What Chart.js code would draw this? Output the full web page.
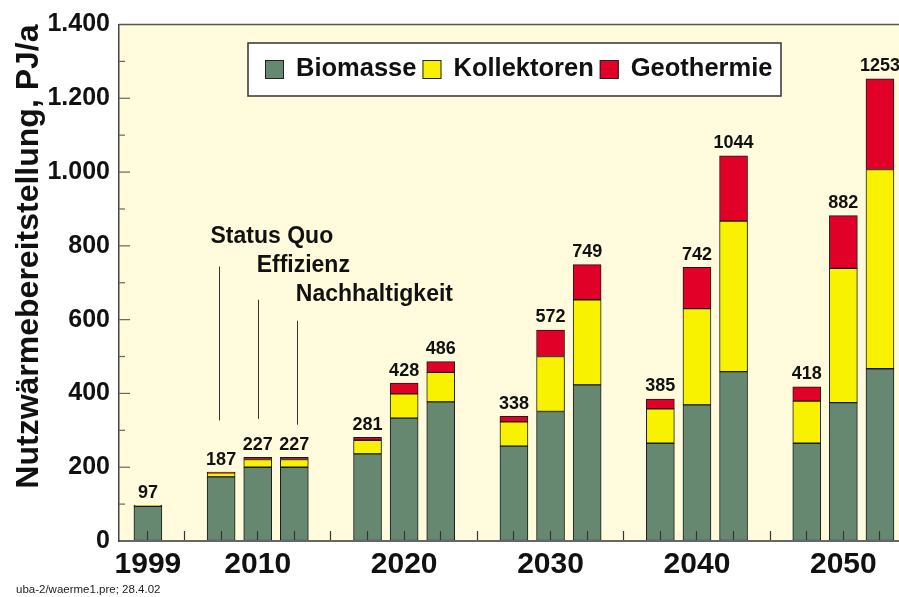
<!DOCTYPE html>
<html>
<head>
<meta charset="utf-8">
<script src="https://cdn.jsdelivr.net/npm/chart.js@4.4.0/dist/chart.umd.min.js"></script>
<style>
  html, body { margin: 0; padding: 0; background: #fff; overflow: hidden; }
  #wrap { position: relative; width: 899px; height: 597px; }
</style>
</head>
<body>
<div id="wrap"><canvas id="chart"></canvas></div>
<script>
// slot index of every bar on the x axis (gaps between the year groups)
const slots = [0, 2, 3, 4, 6, 7, 8, 10, 11, 12, 14, 15, 16, 18, 19, 20];
const yearSlots = [0, 3, 7, 11, 15, 19];
const yearLabels = ['1999', '2010', '2020', '2030', '2040', '2050'];

const seriesNames = ['Biomasse', 'Kollektoren', 'Geothermie'];
const biomasse    = [94, 174, 200, 200, 236, 333, 377, 257, 351, 423, 265, 369, 459, 265, 375, 467];
const kollektoren = [3, 11, 21, 21, 37, 66, 80, 66, 149, 231, 93, 261, 408, 114, 364, 540];
const geothermie  = [0, 2, 6, 6, 8, 29, 29, 15, 72, 95, 27, 112, 177, 39, 143, 246];
const totals      = [97, 187, 227, 227, 281, 428, 486, 338, 572, 749, 385, 742, 1044, 418, 882, 1253];

const scenarios = ['Status Quo', 'Effizienz', 'Nachhaltigkeit'];
const yTitle = 'Nutzwärmebereitstellung, PJ/a';
const footer = 'uba-2/waerme1.pre; 28.4.02';

const FONT = '"Liberation Sans", Arial, Helvetica, sans-serif';
const colors = ['#668870', '#F8F200', '#E00028'];

function fmt(v) {
  return String(v).replace(/\B(?=(\d{3})+(?!\d))/g, '.');
}

// annotation anchors in data units (slot, PJ/a)
const scenarioText = [[1.71, 807], [2.97, 729], [4.04, 651]];
const scenarioLine = [[1.93, 744, 327], [3.0, 654, 331], [4.06, 597, 315]];

const decorations = {
  id: 'decorations',
  beforeDraw(chart) {
    const { ctx, chartArea: a } = chart;
    ctx.save();
    ctx.fillStyle = '#FFFBDC';
    ctx.fillRect(a.left, a.top, a.right - a.left, a.bottom - a.top);
    ctx.restore();
  },
  afterDatasetsDraw(chart) {
    const { ctx, scales: { x, y } } = chart;
    ctx.save();
    ctx.font = `bold 18px ${FONT}`;
    ctx.fillStyle = '#111';
    ctx.textAlign = 'center';
    ctx.textBaseline = 'alphabetic';
    totals.forEach((t, i) => {
      ctx.fillText(String(t), x.getPixelForValue(slots[i]), y.getPixelForValue(t) - 7.5);
    });

    // scenario names and pointer lines
    ctx.font = `bold 23px ${FONT}`;
    ctx.textAlign = 'left';
    scenarios.forEach((s, i) => {
      ctx.fillText(s, x.getPixelForValue(scenarioText[i][0]), y.getPixelForValue(scenarioText[i][1]));
    });
    ctx.strokeStyle = '#333';
    ctx.lineWidth = 1;
    scenarioLine.forEach(([sx, top, bottom]) => {
      const px = Math.round(x.getPixelForValue(sx)) + 0.5;
      ctx.beginPath();
      ctx.moveTo(px, y.getPixelForValue(top));
      ctx.lineTo(px, y.getPixelForValue(bottom));
      ctx.stroke();
    });
    ctx.restore();
  },
  afterDraw(chart) {
    const { ctx, chartArea: a, scales: { y } } = chart;
    ctx.save();
    // top frame line
    ctx.strokeStyle = '#555';
    ctx.lineWidth = 1.5;
    ctx.beginPath();
    ctx.moveTo(a.left, a.top);
    ctx.lineTo(a.right, a.top);
    ctx.stroke();

    // inward ticks on the y axis: long at labels, short between
    ctx.lineWidth = 1.2;
    ctx.strokeStyle = '#666';
    for (let v = 100; v < 1400; v += 100) {
      const py = y.getPixelForValue(v);
      ctx.beginPath();
      ctx.moveTo(a.left, py);
      ctx.lineTo(a.left + (v % 200 === 0 ? 11 : 6), py);
      ctx.stroke();
    }

    // legend box
    const lx = 248, ly = 43, lw = 533, lh = 53;
    ctx.fillStyle = '#fff';
    ctx.fillRect(lx, ly, lw, lh);
    ctx.strokeStyle = '#333';
    ctx.lineWidth = 1.5;
    ctx.strokeRect(lx, ly, lw, lh);
    ctx.font = `bold 25.5px ${FONT}`;
    ctx.textAlign = 'left';
    ctx.textBaseline = 'alphabetic';
    let cx = 265;
    chart.data.datasets.forEach(ds => {
      ctx.fillStyle = ds.backgroundColor;
      ctx.fillRect(cx, 60, 19, 19);
      ctx.strokeStyle = '#222';
      ctx.lineWidth = 1;
      ctx.strokeRect(cx + 0.5, 60.5, 18, 18);
      ctx.fillStyle = '#111';
      ctx.fillText(ds.label, cx + 31, 76);
      cx += 31 + ctx.measureText(ds.label).width + 6;
    });

    // source note
    ctx.font = `11.5px ${FONT}`;
    ctx.fillStyle = '#222';
    ctx.fillText(footer, 16, 593);
    ctx.restore();
  }
};

const series = [biomasse, kollektoren, geothermie];
const datasets = series.map((vals, k) => ({
  label: seriesNames[k],
  data: slots.map((s, i) => ({ x: s, y: vals[i] })),
  backgroundColor: colors[k],
  borderColor: '#1a1a1a',
  borderWidth: 1,
  borderSkipped: false,
  barThickness: 28
}));

const ctx = document.getElementById('chart').getContext('2d');
const chart = new Chart(ctx, {
  type: 'bar',
  data: { datasets },
  plugins: [decorations],
  options: {
    responsive: true,
    maintainAspectRatio: false,
    animation: false,
    layout: { padding: { top: 24.5, right: 0, bottom: 0, left: 0 } },
    plugins: {
      legend: { display: false },
      tooltip: { enabled: false }
    },
    scales: {
      x: {
        type: 'linear',
        stacked: true,
        offset: false,
        min: -0.79,
        max: 20.52,
        afterFit: (scale) => { scale.height = 56; },
        ticks: {
          stepSize: 1,
          includeBounds: false,
          autoSkip: false,
          maxRotation: 0,
          padding: 16,
          color: '#111',
          font: { family: FONT, size: 30, weight: 'bold' },
          callback: (v) => {
            const k = yearSlots.indexOf(v);
            return k >= 0 ? yearLabels[k] : '';
          }
        },
        grid: {
          offset: false,
          drawOnChartArea: false,
          tickLength: -10,
          tickColor: '#333',
          tickWidth: 1.2,
          z: 1
        },
        border: { display: true, color: '#666', width: 2, z: 1 }
      },
      y: {
        stacked: true,
        min: 0,
        max: 1400,
        afterFit: (scale) => { scale.width = 119; },
        ticks: {
          stepSize: 200,
          padding: 9,
          color: '#111',
          font: { family: FONT, size: 25, weight: 'bold' },
          callback: (v) => fmt(v)
        },
        grid: {
          drawOnChartArea: false,
          drawTicks: false
        },
        border: { display: true, color: '#444', width: 1.5, z: 1 },
        title: {
          display: true,
          text: yTitle,
          align: 'end',
          color: '#111',
          padding: { top: 10, bottom: 0 },
          font: { family: FONT, size: 32, weight: 'bold' }
        }
      }
    }
  }
});
</script>
</body>
</html>
